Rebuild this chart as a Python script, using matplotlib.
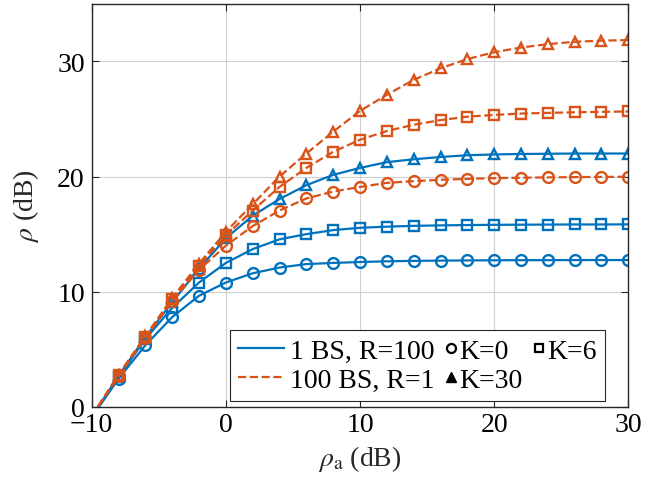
import numpy as np
import matplotlib
matplotlib.use("Agg")
import matplotlib.pyplot as plt
from matplotlib.lines import Line2D
from matplotlib.legend_handler import HandlerBase

plt.rcParams['font.family'] = ['Liberation Serif', 'DejaVu Serif']
plt.rcParams['mathtext.fontset'] = 'stix'

# ---- data ----
rho_a = [-10, -8, -6, -4, -2, 0, 2, 4, 6, 8, 10, 12, 14, 16, 18, 20, 22, 24, 26, 28, 30]

bs1_k0 = [-0.9, 2.45, 5.35, 7.8, 9.65, 10.8, 11.6, 12.1, 12.4, 12.5, 12.58, 12.64, 12.68,
          12.7, 12.72, 12.73, 12.74, 12.74, 12.75, 12.75, 12.75]
bs1_k6 = [-0.9, 2.6, 5.9, 8.6, 10.8, 12.5, 13.7, 14.55, 15.0, 15.35, 15.55, 15.65, 15.72,
          15.76, 15.79, 15.81, 15.82, 15.83, 15.84, 15.84, 15.85]
bs1_k30 = [-0.9, 2.7, 6.05, 9.1, 12.0, 14.65, 16.6, 18.05, 19.25, 20.15, 20.75, 21.25, 21.5,
           21.7, 21.85, 21.92, 21.96, 21.98, 22.0, 22.0, 22.0]

bs100_k0 = [-0.8, 2.7, 6.0, 9.2, 11.9, 14.0, 15.7, 17.05, 18.1, 18.7, 19.1, 19.45, 19.6,
            19.72, 19.8, 19.86, 19.9, 19.93, 19.95, 19.97, 19.98]
bs100_k6 = [-0.8, 2.75, 6.1, 9.35, 12.25, 14.9, 17.05, 19.1, 20.75, 22.15, 23.2, 23.95, 24.5,
            24.9, 25.2, 25.35, 25.47, 25.53, 25.58, 25.62, 25.65]
bs100_k30 = [-0.8, 2.8, 6.15, 9.45, 12.45, 15.2, 17.6, 20.0, 22.0, 23.9, 25.7, 27.1, 28.4,
             29.4, 30.2, 30.8, 31.2, 31.5, 31.7, 31.8, 31.85]

x_ticks = [-10, 0, 10, 20, 30]
y_ticks = [0, 10, 20, 30]

blue = '#0072BD'
orange = '#D95319'
FS = 20

fig = plt.figure(figsize=(6.6, 4.81), dpi=100)
ax = fig.add_axes([0.139, 0.152, 0.813, 0.838])

series = [
    (bs1_k0, blue, '-', 'o'),
    (bs1_k6, blue, '-', 's'),
    (bs1_k30, blue, '-', '^'),
    (bs100_k0, orange, '--', 'o'),
    (bs100_k6, orange, '--', 's'),
    (bs100_k30, orange, '--', '^'),
]
for y, c, ls, m in series:
    ax.plot(rho_a, y, color=c, linestyle=ls, linewidth=1.6, marker=m,
            markersize=7.8, markerfacecolor='none', markeredgecolor=c,
            markeredgewidth=1.7)

ax.set_xlim(-10, 30)
ax.set_ylim(0, 35)
ax.set_xticks(x_ticks)
ax.set_yticks(y_ticks)
ax.grid(True, color='#d0d0d0', linewidth=0.8)
ax.set_axisbelow(True)
ax.tick_params(direction='in', top=True, right=True, length=5, width=0.8,
               labelsize=FS, colors='#262626', labelcolor='black')
ax.tick_params(axis='y', pad=5)
ax.tick_params(axis='x', pad=4)
for s in ax.spines.values():
    s.set_color('#262626')
    s.set_linewidth(1.0)

ax.set_xlabel(r'$\rho_\mathrm{a}$ (dB)', fontsize=FS, color='#262626')
ax.set_ylabel(r'$\rho$ (dB)', fontsize=FS, color='#262626', labelpad=12)


class MarkerRight(HandlerBase):
    def create_artists(self, legend, orig_handle, xdescent, ydescent, width, height,
                       fontsize, trans):
        x = -xdescent + width - 2.0
        y = -ydescent + height / 2
        l = Line2D([x], [y], marker=orig_handle.get_marker(), linestyle='none',
                   markersize=orig_handle.get_markersize(),
                   markerfacecolor=orig_handle.get_markerfacecolor(),
                   markeredgecolor=orig_handle.get_markeredgecolor(),
                   markeredgewidth=orig_handle.get_markeredgewidth(),
                   transform=trans)
        return [l]


h_l1 = Line2D([], [], color=blue, linestyle='-', linewidth=1.6)
h_l2 = Line2D([], [], color=orange, linestyle='--', linewidth=1.6)
h_k0 = Line2D([], [], marker='o', color='black', markerfacecolor='none', markersize=6.5,
              markeredgewidth=1.6, linestyle='none')
h_k6 = Line2D([], [], marker='s', color='black', markerfacecolor='none', markersize=6.3,
              markeredgewidth=1.6, linestyle='none')
h_k30 = Line2D([], [], marker='^', color='black', markerfacecolor='black', markersize=6.5,
               markeredgewidth=1.0, linestyle='none')
h_empty = Line2D([], [], linestyle='none')

handles = [h_l1, h_l2, h_k0, h_k30, h_k6, h_empty]
labels = ['1 BS, R=100', '100 BS, R=1', 'K=0', 'K=30', 'K=6', '']
hmap = {h_k0: MarkerRight(), h_k6: MarkerRight(), h_k30: MarkerRight(), h_empty: MarkerRight()}
leg = ax.legend(handles, labels, ncol=3, loc='lower right', bbox_to_anchor=(0.957, 0.015),
                borderaxespad=0, fontsize=FS, handlelength=1.65, handletextpad=0.2,
                columnspacing=-0.95, labelspacing=0.12, borderpad=0.3,
                fancybox=False, framealpha=1, edgecolor='#262626', handler_map=hmap)
leg.get_frame().set_linewidth(0.8)

fig.savefig('out.png', dpi=100)
